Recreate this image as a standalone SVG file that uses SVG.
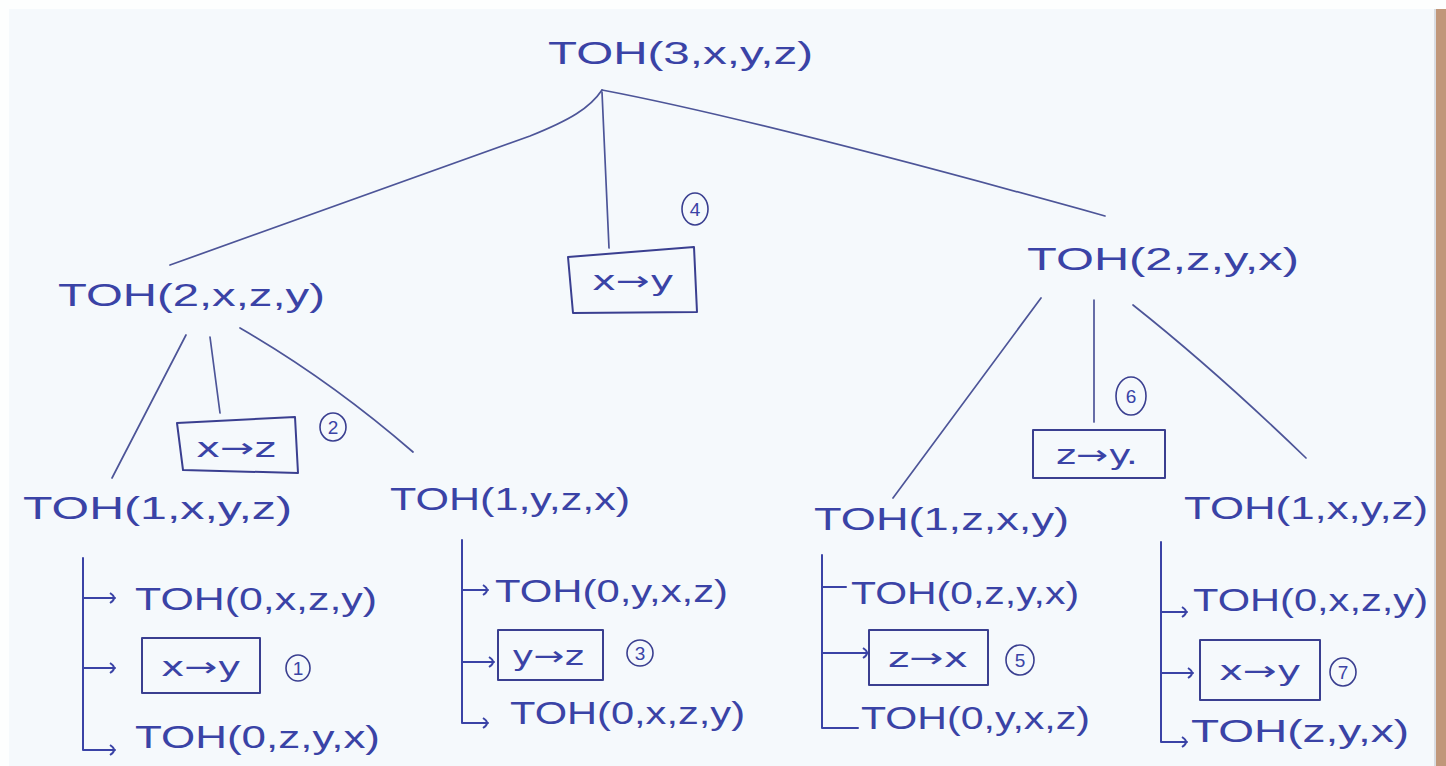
<svg xmlns="http://www.w3.org/2000/svg" width="1446" height="766" viewBox="0 0 1446 766">
<style>
.lbl{font-family:"Liberation Sans","DejaVu Sans",sans-serif;font-size:32px;fill:#3a43a6;}
.mv{font-family:"DejaVu Sans","Liberation Sans",sans-serif;font-size:27px;fill:#3a43a6;text-anchor:middle;}
.num{font-family:"Liberation Sans","DejaVu Sans",sans-serif;font-size:19px;fill:#3a43a6;text-anchor:middle;}
.ln{stroke:#4d5598;stroke-width:1.7;fill:none;stroke-linecap:round;}
.br{stroke:#3a43a6;stroke-width:2;fill:none;stroke-linecap:round;stroke-linejoin:round;}
.box{stroke:#3a3f90;stroke-width:2;fill:none;stroke-linejoin:round;}
.circ{stroke:#3a3f90;stroke-width:1.6;fill:none;}
</style>
<defs>
<marker id="ah" viewBox="0 0 10 12" refX="7" refY="6" markerWidth="10" markerHeight="12" markerUnits="userSpaceOnUse" orient="auto">
<path d="M2,1 Q10,6 2,11" fill="none" stroke="#3a43a6" stroke-width="2"/>
</marker>
</defs>
<rect x="0" y="0" width="1446" height="766" fill="#fdfefe"/>
<rect x="9" y="9" width="1427" height="757" fill="#f5f9fc"/>
<rect x="1434" y="9" width="2" height="757" fill="#d9dde2"/>
<rect x="1436" y="9" width="10" height="757" fill="#c0977a"/>

<g id="connectors">
<path class="ln" d="M602,90 C590,108 570,120 530,136 L170,265"/>
<path class="ln" d="M602,90 Q760,120 1105,216"/>
<path class="ln" d="M602,92 L609,248"/>
<path class="ln" d="M186,335 L112,478"/>
<path class="ln" d="M210,337 L220,413"/>
<path class="ln" d="M240,328 Q330,380 413,452"/>
<path class="ln" d="M1041,298 L893,498"/>
<path class="ln" d="M1094,300 L1094,422"/>
<path class="ln" d="M1133,305 Q1215,370 1306,458"/>
<!-- bracket 1 -->
<path class="br" d="M83,558 L83,750 L115,750" marker-end="url(#ah)"/>
<path class="br" d="M83,598 L115,598" marker-end="url(#ah)"/>
<path class="br" d="M83,668 L115,668" marker-end="url(#ah)"/>
<!-- bracket 2 -->
<path class="br" d="M462,540 L462,723 L488,723" marker-end="url(#ah)"/>
<path class="br" d="M462,590 L488,590" marker-end="url(#ah)"/>
<path class="br" d="M462,662 L494,662" marker-end="url(#ah)"/>
<!-- bracket 3 -->
<path class="br" d="M822,555 L822,728 L858,728"/>
<path class="br" d="M822,587 L846,587"/>
<path class="br" d="M822,653 L868,653" marker-end="url(#ah)"/>
<!-- bracket 4 -->
<path class="br" d="M1161,542 L1161,742 L1187,742" marker-end="url(#ah)"/>
<path class="br" d="M1161,612 L1187,612" marker-end="url(#ah)"/>
<path class="br" d="M1161,673 L1193,673" marker-end="url(#ah)"/>
</g>

<g id="n-root"><text class="lbl" x="548" y="64" textLength="265" lengthAdjust="spacingAndGlyphs">TOH(3,x,y,z)</text></g>

<g id="n-move4">
<polygon class="box" points="568,257 694,247 697,312 573,313"/>
<text class="mv" x="633" y="290" textLength="82" lengthAdjust="spacingAndGlyphs">x→y</text>
<ellipse class="circ" cx="695" cy="209" rx="13" ry="16"/><text class="num" x="695" y="216">4</text>
</g>

<g id="n-l2"><text class="lbl" x="58" y="306" textLength="267" lengthAdjust="spacingAndGlyphs">TOH(2,x,z,y)</text></g>

<g id="n-move2">
<polygon class="box" points="177,423 295,417 298,473 183,470"/>
<text class="mv" x="236" y="457" textLength="80" lengthAdjust="spacingAndGlyphs">x→z</text>
<ellipse class="circ" cx="333" cy="427" rx="13" ry="14"/><text class="num" x="333" y="434">2</text>
</g>

<g id="n-r2"><text class="lbl" x="1027" y="270" textLength="272" lengthAdjust="spacingAndGlyphs">TOH(2,z,y,x)</text></g>

<g id="n-move6">
<rect class="box" x="1033" y="430" width="132" height="48"/>
<text class="mv" x="1097" y="464" textLength="82" lengthAdjust="spacingAndGlyphs">z→y.</text>
<ellipse class="circ" cx="1131" cy="396" rx="15" ry="19"/><text class="num" x="1131" y="403">6</text>
</g>

<g id="n-ll1"><text class="lbl" x="23" y="519" textLength="269" lengthAdjust="spacingAndGlyphs">TOH(1,x,y,z)</text></g>
<g id="n-lr1"><text class="lbl" x="390" y="510" textLength="240" lengthAdjust="spacingAndGlyphs">TOH(1,y,z,x)</text></g>
<g id="n-rl1"><text class="lbl" x="814" y="530" textLength="255" lengthAdjust="spacingAndGlyphs">TOH(1,z,x,y)</text></g>
<g id="n-rr1"><text class="lbl" x="1184" y="519" textLength="244" lengthAdjust="spacingAndGlyphs">TOH(1,x,y,z)</text></g>

<g id="n-b1a"><text class="lbl" x="135" y="610" textLength="242" lengthAdjust="spacingAndGlyphs">TOH(0,x,z,y)</text></g>
<g id="n-move1">
<rect class="box" x="142" y="638" width="118" height="55"/>
<text class="mv" x="201" y="676" textLength="80" lengthAdjust="spacingAndGlyphs">x→y</text>
<ellipse class="circ" cx="298" cy="668" rx="12" ry="13"/><text class="num" x="298" y="675">1</text>
</g>
<g id="n-b1c"><text class="lbl" x="135" y="748" textLength="245" lengthAdjust="spacingAndGlyphs">TOH(0,z,y,x)</text></g>

<g id="n-b2a"><text class="lbl" x="495" y="602" textLength="233" lengthAdjust="spacingAndGlyphs">TOH(0,y,x,z)</text></g>
<g id="n-move3">
<rect class="box" x="498" y="630" width="105" height="50"/>
<text class="mv" x="548" y="665" textLength="72" lengthAdjust="spacingAndGlyphs">y→z</text>
<ellipse class="circ" cx="640" cy="653" rx="13" ry="13"/><text class="num" x="640" y="660">3</text>
</g>
<g id="n-b2c"><text class="lbl" x="510" y="724" textLength="235" lengthAdjust="spacingAndGlyphs">TOH(0,x,z,y)</text></g>

<g id="n-b3a"><text class="lbl" x="851" y="604" textLength="228" lengthAdjust="spacingAndGlyphs">TOH(0,z,y,x)</text></g>
<g id="n-move5">
<rect class="box" x="869" y="630" width="119" height="55"/>
<text class="mv" x="928" y="667" textLength="80" lengthAdjust="spacingAndGlyphs">z→x</text>
<ellipse class="circ" cx="1020" cy="660" rx="14" ry="15"/><text class="num" x="1020" y="667">5</text>
</g>
<g id="n-b3c"><text class="lbl" x="861" y="729" textLength="229" lengthAdjust="spacingAndGlyphs">TOH(0,y,x,z)</text></g>

<g id="n-b4a"><text class="lbl" x="1193" y="611" textLength="235" lengthAdjust="spacingAndGlyphs">TOH(0,x,z,y)</text></g>
<g id="n-move7">
<rect class="box" x="1200" y="640" width="120" height="60"/>
<text class="mv" x="1260" y="680" textLength="82" lengthAdjust="spacingAndGlyphs">x→y</text>
<ellipse class="circ" cx="1343" cy="672" rx="13" ry="14"/><text class="num" x="1343" y="679">7</text>
</g>
<g id="n-b4c"><text class="lbl" x="1191" y="742" textLength="218" lengthAdjust="spacingAndGlyphs">TOH(z,y,x)</text></g>
</svg>
